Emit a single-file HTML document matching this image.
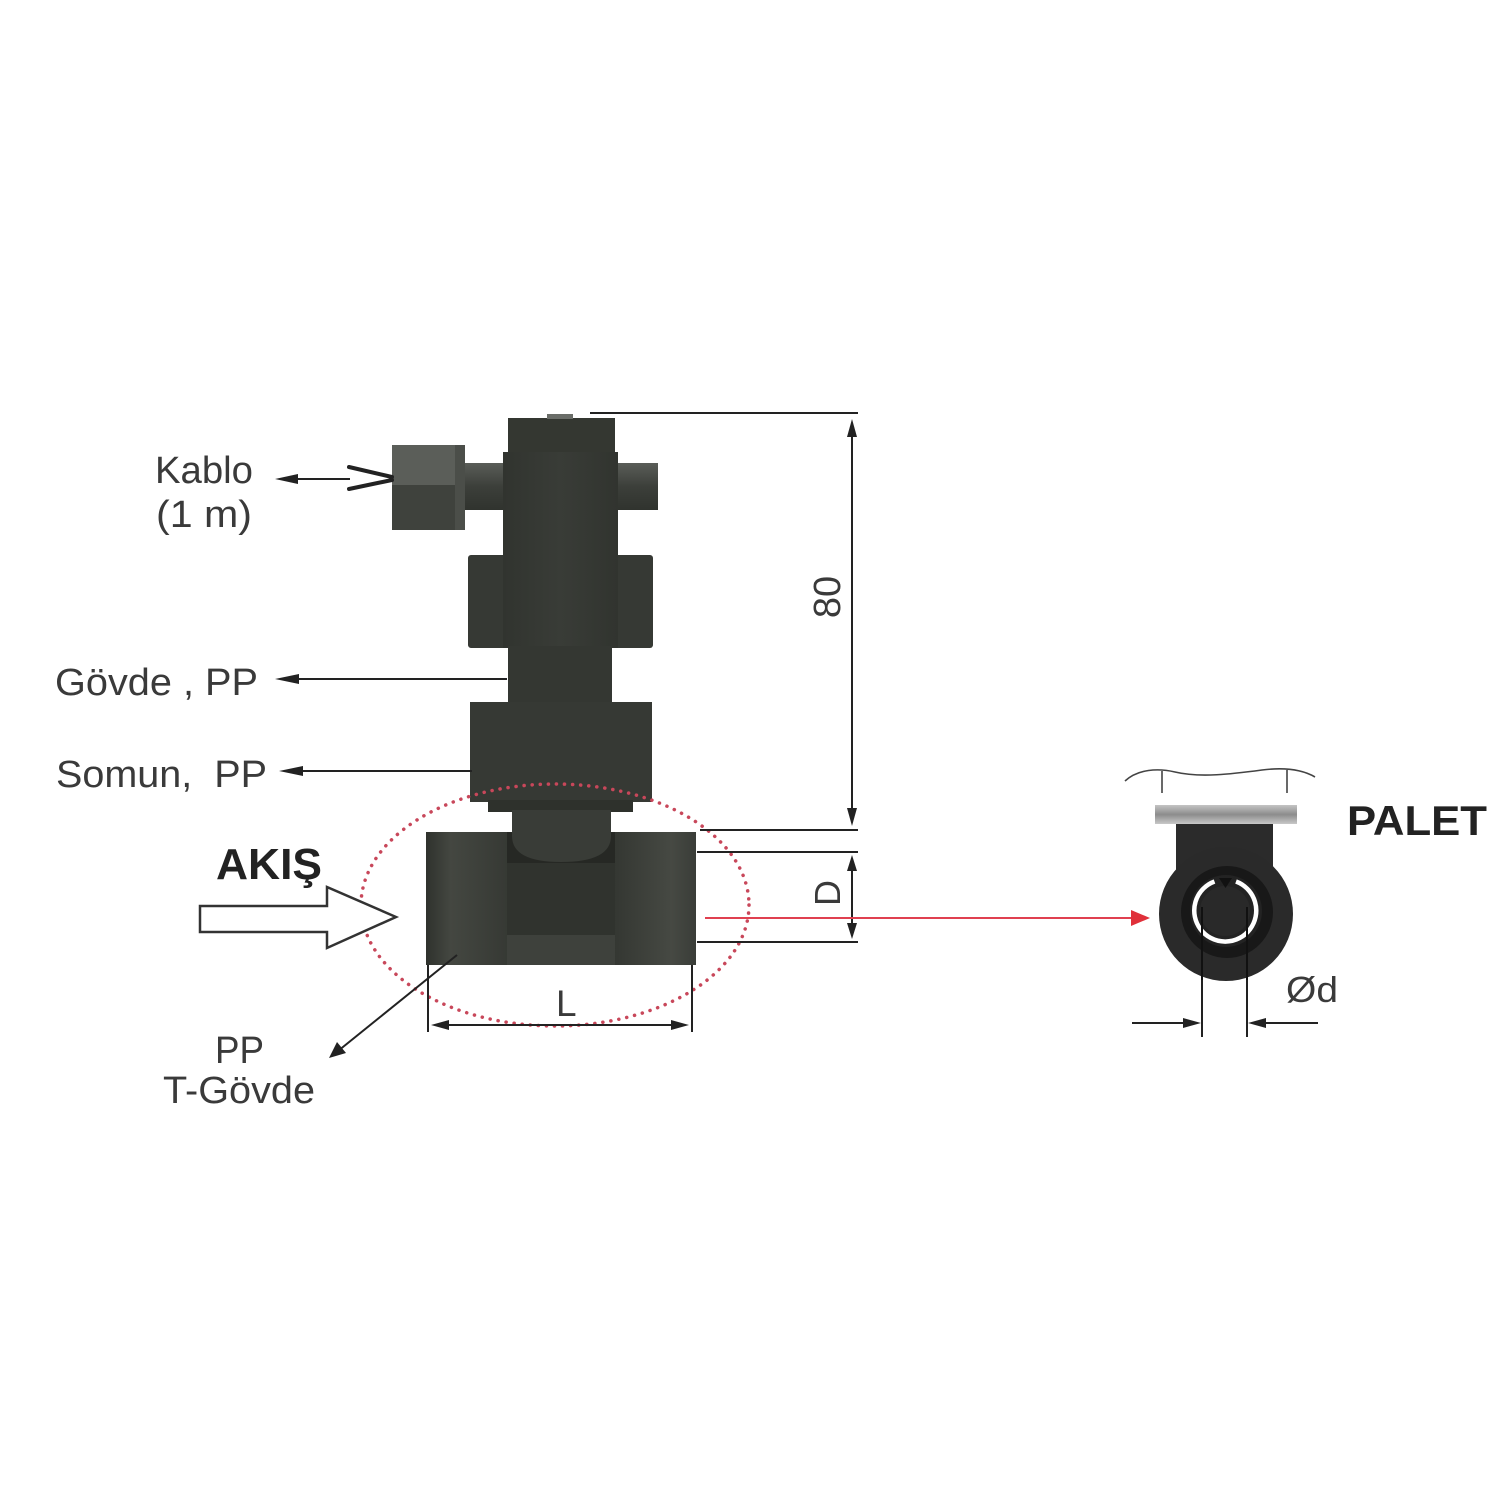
<!DOCTYPE html>
<html>
<head>
<meta charset="utf-8">
<style>
  html,body{margin:0;padding:0;background:#ffffff;}
  svg{display:block;}
  .lbl{font-family:"Liberation Sans",Arial,sans-serif;fill:#3a3a3a;}
  .bold{font-family:"Liberation Sans",Arial,sans-serif;font-weight:bold;fill:#222222;}
</style>
</head>
<body>
<svg width="1500" height="1500" viewBox="0 0 1500 1500" xmlns="http://www.w3.org/2000/svg">
  <defs>
    <linearGradient id="tl" x1="0" y1="0" x2="1" y2="0">
      <stop offset="0" stop-color="#2f322d"/>
      <stop offset="0.3" stop-color="#444741"/>
      <stop offset="1" stop-color="#363934"/>
    </linearGradient>
    <linearGradient id="tr" x1="0" y1="0" x2="1" y2="0">
      <stop offset="0" stop-color="#343732"/>
      <stop offset="0.7" stop-color="#464943"/>
      <stop offset="1" stop-color="#3a3d38"/>
    </linearGradient>
    <linearGradient id="arm" x1="0" y1="0" x2="0" y2="1">
      <stop offset="0" stop-color="#5a5d58"/>
      <stop offset="0.5" stop-color="#3c3f3a"/>
      <stop offset="1" stop-color="#30332e"/>
    </linearGradient>
    <linearGradient id="plate" x1="0" y1="0" x2="0" y2="1">
      <stop offset="0" stop-color="#c4c4c4"/>
      <stop offset="0.5" stop-color="#8c8c8c"/>
      <stop offset="1" stop-color="#c8c8c8"/>
    </linearGradient>
    <linearGradient id="body" x1="0" y1="0" x2="1" y2="0">
      <stop offset="0" stop-color="#31342f"/>
      <stop offset="0.5" stop-color="#393c37"/>
      <stop offset="1" stop-color="#31342f"/>
    </linearGradient>
    <radialGradient id="shadow" cx="0.5" cy="0" r="0.6">
      <stop offset="0" stop-color="#1f211e" stop-opacity="0.95"/>
      <stop offset="1" stop-color="#1f211e" stop-opacity="0"/>
    </radialGradient>
    <clipPath id="tclip">
      <rect x="426" y="832" width="270" height="133"/>
    </clipPath>
  </defs>

  <!-- ===== Sensor body ===== -->
  <rect x="508" y="418" width="107" height="36" fill="#343731"/>
  <rect x="547" y="414" width="26" height="5" fill="#6a6d68"/>
  <rect x="463" y="463" width="42" height="47" fill="url(#arm)"/>
  <rect x="616" y="463" width="42" height="47" fill="url(#arm)"/>
  <rect x="392" y="445" width="73" height="40" fill="#5b5e59"/>
  <rect x="392" y="485" width="73" height="45" fill="#3f423d"/>
  <rect x="455" y="445" width="10" height="85" fill="#4b4e49"/>
  <rect x="468" y="555" width="42" height="93" rx="3" fill="#363934"/>
  <rect x="608" y="555" width="45" height="93" rx="3" fill="#363934"/>
  <rect x="503" y="452" width="115" height="196" fill="url(#body)"/>
  <rect x="508" y="646" width="104" height="58" fill="#343732"/>
  <rect x="470" y="702" width="182" height="100" fill="#363934"/>
  <rect x="488" y="800" width="145" height="12" fill="#2e312c"/>

  <!-- T body -->
  <rect x="426" y="832" width="82" height="133" fill="url(#tl)"/>
  <rect x="614" y="832" width="82" height="133" fill="url(#tr)"/>
  <rect x="507" y="832" width="108" height="133" fill="#30332e"/>
  <rect x="507" y="935" width="108" height="30" fill="#3e413c"/>
  <rect x="507" y="832" width="108" height="31" fill="#262824"/>
  <g clip-path="url(#tclip)">
    <ellipse cx="561" cy="832" rx="105" ry="22" fill="url(#shadow)"/>
  </g>
  <!-- dome neck -->
  <path d="M512 810 H611 V836 Q611 862 561 862 Q512 862 512 836 Z" fill="#393c37"/>

  <!-- red dotted ellipse -->
  <ellipse cx="555" cy="905" rx="194" ry="121" fill="none" stroke="#c8475a" stroke-width="3.5" stroke-dasharray="0.1 8" stroke-linecap="round"/>

  <!-- ===== Dimension lines ===== -->
  <g stroke="#222" stroke-width="2" fill="none">
    <line x1="590" y1="413" x2="858" y2="413"/>
    <line x1="852" y1="425" x2="852" y2="820"/>
    <line x1="700" y1="830" x2="858" y2="830"/>
    <line x1="697" y1="852" x2="858" y2="852"/>
    <line x1="697" y1="942" x2="858" y2="942"/>
    <line x1="852" y1="862" x2="852" y2="932"/>
    <line x1="428" y1="965" x2="428" y2="1032"/>
    <line x1="692" y1="965" x2="692" y2="1032"/>
    <line x1="440" y1="1025" x2="680" y2="1025"/>
    <line x1="295" y1="479" x2="350" y2="479"/>
    <line x1="296" y1="679" x2="507" y2="679"/>
    <line x1="300" y1="771" x2="472" y2="771"/>
    <line x1="457" y1="955" x2="338" y2="1051"/>
    <line x1="1202" y1="907" x2="1202" y2="1037"/>
    <line x1="1247" y1="907" x2="1247" y2="1037"/>
    <line x1="1132" y1="1023" x2="1192" y2="1023"/>
    <line x1="1257" y1="1023" x2="1318" y2="1023"/>
  </g>
  <g fill="#222">
    <polygon points="852,419 847,437 857,437"/>
    <polygon points="852,826 847,808 857,808"/>
    <polygon points="852,855 847,871 857,871"/>
    <polygon points="852,939 847,923 857,923"/>
    <polygon points="431,1025 449,1020 449,1030"/>
    <polygon points="689,1025 671,1020 671,1030"/>
    <polygon points="275,479 298,474 298,484"/>
    <polygon points="275,679 299,674 299,684"/>
    <polygon points="279,771 303,766 303,776"/>
    <polygon points="329,1058 337,1042 346,1053"/>
    <polygon points="1201,1023 1183,1018 1183,1028"/>
    <polygon points="1248,1023 1266,1018 1266,1028"/>
  </g>
  <g stroke="#222" stroke-width="4" stroke-linecap="round" fill="none">
    <line x1="349" y1="467" x2="392" y2="477"/>
    <line x1="349" y1="489" x2="392" y2="480"/>
  </g>

  <!-- AKIŞ hollow arrow -->
  <polygon points="200,906 327,906 327,887 396,917 327,948 327,932 200,932" fill="#fff" stroke="#333" stroke-width="2.5" stroke-linejoin="miter"/>

  <!-- red arrow -->
  <line x1="705" y1="918" x2="1135" y2="918" stroke="#e04050" stroke-width="2"/>
  <polygon points="1131,910 1150,918 1131,926" fill="#e0303a"/>

  <!-- ===== Palet view ===== -->
  <path d="M1125 781 C1138 769,1158 768,1175 772 C1200 778,1232 774,1262 770 C1286 767,1303 770,1315 777" fill="none" stroke="#444" stroke-width="1.6"/>
  <line x1="1162" y1="771" x2="1162" y2="793" stroke="#444" stroke-width="1.6"/>
  <line x1="1287" y1="770" x2="1287" y2="793" stroke="#444" stroke-width="1.6"/>
  <rect x="1155" y="805" width="142" height="19" fill="url(#plate)"/>
  <rect x="1176" y="824" width="97" height="60" fill="#2b2b2b"/>
  <circle cx="1226" cy="914" r="67" fill="#2a2a2a"/>
  <circle cx="1227" cy="912" r="46" fill="#181818"/>
  <circle cx="1226" cy="911" r="36" fill="#232323"/>
  <path d="M1236 881.5 A31 31 0 1 1 1214.5 881.5" fill="none" stroke="#ffffff" stroke-width="4.5"/>
  <circle cx="1225" cy="911" r="25" fill="#292929"/>
  <polygon points="1219,878 1232,878 1225.5,888" fill="#111"/>
  <line x1="1202" y1="907" x2="1202" y2="980" stroke="#111" stroke-width="2"/>
  <line x1="1247" y1="907" x2="1247" y2="980" stroke="#111" stroke-width="2"/>

  <!-- ===== Text ===== -->
  <text class="lbl" x="155" y="483" font-size="38" textLength="98" lengthAdjust="spacingAndGlyphs">Kablo</text>
  <text class="lbl" x="156" y="527" font-size="38" textLength="96" lengthAdjust="spacingAndGlyphs">(1 m)</text>
  <text class="lbl" x="55" y="695" font-size="38" textLength="203" lengthAdjust="spacingAndGlyphs" xml:space="preserve">Gövde , PP</text>
  <text class="lbl" x="56" y="787" font-size="38" textLength="211" lengthAdjust="spacingAndGlyphs" xml:space="preserve">Somun,  PP</text>
  <text class="bold" x="216" y="879" font-size="44" textLength="106" lengthAdjust="spacingAndGlyphs">AKIŞ</text>
  <text class="lbl" x="215" y="1063" font-size="38" textLength="49" lengthAdjust="spacingAndGlyphs">PP</text>
  <text class="lbl" x="163" y="1103" font-size="38" textLength="152" lengthAdjust="spacingAndGlyphs">T-Gövde</text>
  <text class="lbl" x="556" y="1016" font-size="37">L</text>
  <text class="lbl" font-size="38" text-anchor="middle" transform="translate(840,597) rotate(-90)">80</text>
  <text class="lbl" font-size="36" text-anchor="middle" transform="translate(840,893) rotate(-90)">D</text>
  <text class="bold" x="1347" y="835" font-size="42" textLength="140" lengthAdjust="spacingAndGlyphs">PALET</text>
  <text class="lbl" x="1286" y="1002" font-size="36" textLength="52" lengthAdjust="spacingAndGlyphs">Ød</text>
</svg>
</body>
</html>
